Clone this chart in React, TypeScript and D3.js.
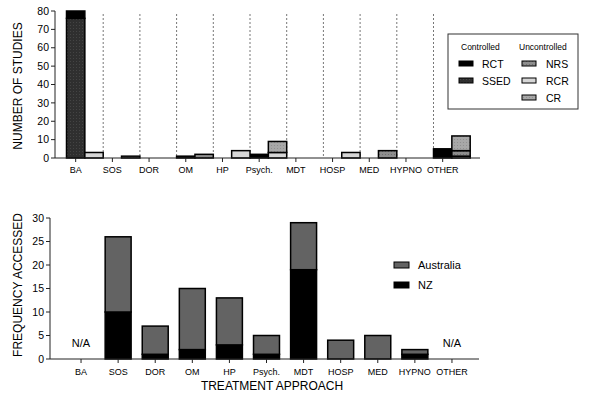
import * as d3 from "d3";

// top panel: number of studies per approach and design
const categories = ["BA", "SOS", "DOR", "OM", "HP", "Psych.", "MDT", "HOSP", "MED", "HYPNO", "OTHER"];
const rct = [4, 0, 0, 1, 0, 2, 0, 0, 0, 0, 5];
const ssed = [76, 0, 0, 0, 0, 0, 0, 0, 0, 0, 0];
const rcr = [3, 0, 0, 0, 4, 3, 0, 3, 0, 0, 1];
const nrs = [0, 1, 0, 2, 0, 0, 0, 0, 4, 0, 3];
const cr = [0, 0, 0, 0, 0, 6, 0, 0, 0, 0, 8];
const studyTicks = [0, 10, 20, 30, 40, 50, 60, 70, 80];

// bottom panel: frequency accessed by country
const nz = [0, 10, 1, 2, 3, 1, 19, 0, 0, 1, 0];
const australia = [0, 16, 6, 13, 10, 4, 10, 4, 5, 1, 0];
const notApplicable = ["BA", "OTHER"];
const freqTicks = [0, 5, 10, 15, 20, 25, 30];

const FONT = "'Liberation Sans', Arial, sans-serif";

const fills: Record<string, string> = {
  rct: "#000",
  ssed: "url(#pSsed)",
  nrs: "url(#pNrs)",
  rcr: "#d6d6d6",
  cr: "url(#pCr)",
  australia: "#636363",
  nz: "#000",
};

type Row = { cat: string; [k: string]: number | string };

function stackRows(cols: Record<string, number[]>, keys: string[]) {
  const rows: Row[] = categories.map((c, i) => {
    const r: Row = { cat: c };
    keys.forEach((k) => (r[k] = cols[k][i]));
    return r;
  });
  return d3.stack<Row>().keys(keys).value((d, k) => d[k] as number)(rows);
}

function TopChart() {
  const x = d3.scaleBand().domain(categories).range([66.5, 470.2]).padding(0);
  const inner = d3.scaleBand().domain(["c", "u"]).range([0, x.bandwidth()]).padding(0);
  const y = d3.scaleLinear().domain([0, 80]).range([158, 11]);

  const ctrl = stackRows({ ssed, rct }, ["ssed", "rct"]);
  const unctrl = stackRows({ rcr, nrs, cr }, ["rcr", "nrs", "cr"]);
  const tickX = (c: string) => x(c)! + inner("c")! + inner.bandwidth() / 2;

  const legendItems = [
    { key: "rct", label: "RCT", col: 0, row: 0 },
    { key: "ssed", label: "SSED", col: 0, row: 1 },
    { key: "nrs", label: "NRS", col: 1, row: 0 },
    { key: "rcr", label: "RCR", col: 1, row: 1 },
    { key: "cr", label: "CR", col: 1, row: 2 },
  ];

  return (
    <g>
      {categories.slice(1).map((c) => (
        <line key={c} x1={x(c)} x2={x(c)} y1={14} y2={158} stroke="#777" strokeWidth={1} strokeDasharray="2,2" />
      ))}
      {[
        { series: ctrl, part: "c" },
        { series: unctrl, part: "u" },
      ].map(({ series, part }) =>
        series.map((s) =>
          s.map((d) =>
            d[1] - d[0] > 0 ? (
              <rect
                key={s.key + part + d.data.cat}
                x={x(d.data.cat as string)! + inner(part)!}
                width={inner.bandwidth()}
                y={y(d[1])}
                height={y(d[0]) - y(d[1])}
                fill={fills[s.key]}
                stroke="#000"
                strokeWidth={1.5}
              />
            ) : null
          )
        )
      )}
      {/* axes */}
      <line x1={55} x2={55} y1={11} y2={158} stroke="#222" />
      {studyTicks.map((t) => (
        <g key={t}>
          <line x1={51} x2={55} y1={y(t)} y2={y(t)} stroke="#222" />
          <text x={49} y={y(t)} dy="0.35em" textAnchor="end" fontSize={10.5}>{t}</text>
        </g>
      ))}
      <line x1={55} x2={480} y1={158} y2={158} stroke="#222" />
      {categories.map((c) => (
        <g key={c}>
          <line x1={tickX(c)} x2={tickX(c)} y1={158} y2={162} stroke="#222" />
          <text x={tickX(c)} y={173} textAnchor="middle" fontSize={9}>{c}</text>
        </g>
      ))}
      <text transform="translate(22,86) rotate(-90)" textAnchor="middle" fontSize={12}>NUMBER OF STUDIES</text>
      {/* legend */}
      <rect x={448} y={34} width={130} height={75} fill="#fff" stroke="#333" />
      <text x={461} y={50} fontSize={8.5}>Controlled</text>
      <text x={519} y={50} fontSize={8.5}>Uncontrolled</text>
      {legendItems.map((it) => (
        <g key={it.key}>
          <rect x={459 + it.col * 63} y={61 + it.row * 17} width={14} height={5} fill={fills[it.key]} stroke="#000" strokeWidth={1} />
          <text x={482 + it.col * 64} y={64 + it.row * 17} dy="0.35em" fontSize={10.5}>{it.label}</text>
        </g>
      ))}
    </g>
  );
}

function BottomChart() {
  const x = d3.scaleBand().domain(categories).range([62.5, 470.5]).paddingInner(0.3).paddingOuter(0.15);
  const y = d3.scaleLinear().domain([0, 30]).range([359, 218]);
  const series = stackRows({ nz, australia }, ["nz", "australia"]);
  const cx = (c: string) => x(c)! + x.bandwidth() / 2;

  return (
    <g>
      {series.map((s) =>
        s.map((d) =>
          d[1] - d[0] > 0 ? (
            <rect
              key={s.key + d.data.cat}
              x={x(d.data.cat as string)}
              width={x.bandwidth()}
              y={y(d[1])}
              height={y(d[0]) - y(d[1])}
              fill={fills[s.key]}
              stroke="#000"
              strokeWidth={1.5}
            />
          ) : null
        )
      )}
      {notApplicable.map((c) => (
        <text key={c} x={cx(c)} y={343} dy="0.35em" textAnchor="middle" fontSize={11}>N/A</text>
      ))}
      <line x1={50} x2={50} y1={218} y2={359} stroke="#222" />
      {freqTicks.map((t) => (
        <g key={t}>
          <line x1={46} x2={50} y1={y(t)} y2={y(t)} stroke="#222" />
          <text x={44} y={y(t)} dy="0.35em" textAnchor="end" fontSize={10.5}>{t}</text>
        </g>
      ))}
      <line x1={50} x2={479} y1={359} y2={359} stroke="#222" />
      {categories.map((c) => (
        <g key={c}>
          <line x1={cx(c)} x2={cx(c)} y1={359} y2={363} stroke="#222" />
          <text x={cx(c)} y={375} textAnchor="middle" fontSize={9}>{c}</text>
        </g>
      ))}
      <text x={272} y={390} textAnchor="middle" fontSize={12}>TREATMENT APPROACH</text>
      <text transform="translate(22,285) rotate(-90)" textAnchor="middle" fontSize={12}>FREQUENCY ACCESSED</text>
      {[
        { key: "australia", label: "Australia" },
        { key: "nz", label: "NZ" },
      ].map((it, i) => (
        <g key={it.key}>
          <rect x={394} y={262 + i * 20} width={15} height={6} fill={fills[it.key]} stroke="#000" strokeWidth={1} />
          <text x={418} y={265 + i * 20} dy="0.35em" fontSize={11}>{it.label}</text>
        </g>
      ))}
    </g>
  );
}

export default function App() {
  return (
    <svg
      width={597}
      height={397}
      style={{ position: "absolute", left: 0, top: 0, background: "#fff" }}
      fontFamily={FONT}
      fill="#000"
    >
      <defs>
        <pattern id="pSsed" width={3} height={3} patternUnits="userSpaceOnUse">
          <rect width={3} height={3} fill="#2f2f2f" />
          <circle cx={1.5} cy={1.5} r={0.5} fill="#4a4a4a" />
        </pattern>
        <pattern id="pNrs" width={3} height={3} patternUnits="userSpaceOnUse">
          <rect width={3} height={3} fill="#8e8e8e" />
          <circle cx={1.5} cy={1.5} r={0.6} fill="#6a6a6a" />
        </pattern>
        <pattern id="pCr" width={3} height={3} patternUnits="userSpaceOnUse">
          <rect width={3} height={3} fill="#a8a8a8" />
          <circle cx={1.5} cy={1.5} r={0.6} fill="#8c8c8c" />
        </pattern>
      </defs>
      <rect width={597} height={397} fill="#fff" />
      <TopChart />
      <BottomChart />
    </svg>
  );
}
